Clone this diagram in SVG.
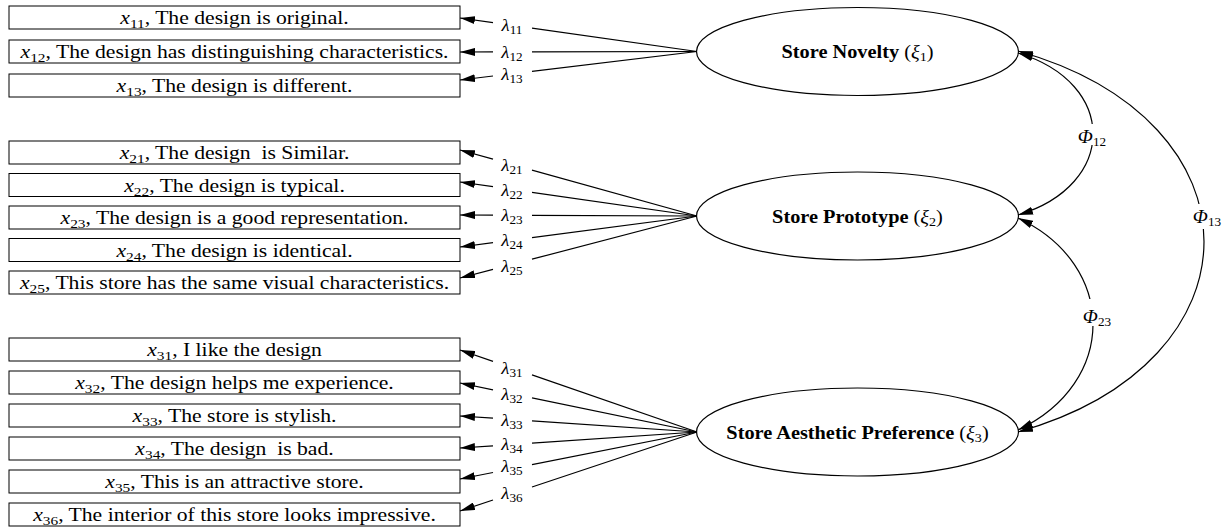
<svg xmlns="http://www.w3.org/2000/svg" width="1228" height="529" viewBox="0 0 1228 529">
<style>
.box{fill:#fff;stroke:#000;stroke-width:1}
.ell{fill:#fff;stroke:#000;stroke-width:1.2}
.edge{fill:none;stroke:#000;stroke-width:1.2}
.t{font-family:"Liberation Serif","Times New Roman",serif;font-size:19px;text-anchor:middle;white-space:pre;fill:#000}
.lt{font-family:"Liberation Serif","Times New Roman",serif;font-size:17px;text-anchor:middle;fill:#000}
.pt{font-family:"Liberation Serif","Times New Roman",serif;font-size:18px;text-anchor:middle;fill:#000}
.et{font-family:"Liberation Serif","Times New Roman",serif;font-size:18px;text-anchor:middle;fill:#000}
.i{font-style:italic}
.b{font-weight:bold}
.s{font-size:13.5px}
.ls{font-size:12px}
.es{font-size:12.5px}
.bg{fill:#fff}
</style>
<defs>
<marker id="ah" viewBox="0 0 15 8" refX="15" refY="4" markerWidth="15" markerHeight="8" markerUnits="userSpaceOnUse" orient="auto-start-reverse">
<path d="M0,0 L15,4 L0,8 z" fill="#000"/>
</marker>
</defs>

<g id="x11"><rect class="box" x="9" y="6" width="451" height="23"/><text class="t" transform="translate(234.5,24) scale(1.14,1)"><tspan class="i">x</tspan><tspan class="s" dy="4">11</tspan><tspan dy="-4">, The design is original.</tspan></text></g>
<g id="x12"><rect class="box" x="9" y="40" width="451" height="23"/><text class="t" transform="translate(234.5,58) scale(1.14,1)"><tspan class="i">x</tspan><tspan class="s" dy="4">12</tspan><tspan dy="-4">, The design has distinguishing characteristics.</tspan></text></g>
<g id="x13"><rect class="box" x="9" y="74" width="451" height="23"/><text class="t" transform="translate(234.5,92) scale(1.14,1)"><tspan class="i">x</tspan><tspan class="s" dy="4">13</tspan><tspan dy="-4">, The design is different.</tspan></text></g>

<g id="x21"><rect class="box" x="9" y="141" width="451" height="23"/><text class="t" transform="translate(234.5,159) scale(1.14,1)"><tspan class="i">x</tspan><tspan class="s" dy="4">21</tspan><tspan dy="-4">, The design  is Similar.</tspan></text></g>
<g id="x22"><rect class="box" x="9" y="173.5" width="451" height="23"/><text class="t" transform="translate(234.5,191.5) scale(1.14,1)"><tspan class="i">x</tspan><tspan class="s" dy="4">22</tspan><tspan dy="-4">, The design is typical.</tspan></text></g>
<g id="x23"><rect class="box" x="9" y="206" width="451" height="23"/><text class="t" transform="translate(234.5,224) scale(1.14,1)"><tspan class="i">x</tspan><tspan class="s" dy="4">23</tspan><tspan dy="-4">, The design is a good representation.</tspan></text></g>
<g id="x24"><rect class="box" x="9" y="238.5" width="451" height="23"/><text class="t" transform="translate(234.5,256.5) scale(1.14,1)"><tspan class="i">x</tspan><tspan class="s" dy="4">24</tspan><tspan dy="-4">, The design is identical.</tspan></text></g>
<g id="x25"><rect class="box" x="9" y="271" width="451" height="23"/><text class="t" transform="translate(234.5,289) scale(1.14,1)"><tspan class="i">x</tspan><tspan class="s" dy="4">25</tspan><tspan dy="-4">, This store has the same visual characteristics.</tspan></text></g>

<g id="x31"><rect class="box" x="9" y="338" width="451" height="23"/><text class="t" transform="translate(234.5,356) scale(1.14,1)"><tspan class="i">x</tspan><tspan class="s" dy="4">31</tspan><tspan dy="-4">, I like the design</tspan></text></g>
<g id="x32"><rect class="box" x="9" y="371" width="451" height="23"/><text class="t" transform="translate(234.5,389) scale(1.14,1)"><tspan class="i">x</tspan><tspan class="s" dy="4">32</tspan><tspan dy="-4">, The design helps me experience.</tspan></text></g>
<g id="x33"><rect class="box" x="9" y="404" width="451" height="23"/><text class="t" transform="translate(234.5,422) scale(1.14,1)"><tspan class="i">x</tspan><tspan class="s" dy="4">33</tspan><tspan dy="-4">, The store is stylish.</tspan></text></g>
<g id="x34"><rect class="box" x="9" y="437" width="451" height="23"/><text class="t" transform="translate(234.5,455) scale(1.14,1)"><tspan class="i">x</tspan><tspan class="s" dy="4">34</tspan><tspan dy="-4">, The design  is bad.</tspan></text></g>
<g id="x35"><rect class="box" x="9" y="470" width="451" height="23"/><text class="t" transform="translate(234.5,488) scale(1.14,1)"><tspan class="i">x</tspan><tspan class="s" dy="4">35</tspan><tspan dy="-4">, This is an attractive store.</tspan></text></g>
<g id="x36"><rect class="box" x="9" y="503" width="451" height="23"/><text class="t" transform="translate(234.5,521) scale(1.14,1)"><tspan class="i">x</tspan><tspan class="s" dy="4">36</tspan><tspan dy="-4">, The interior of this store looks impressive.</tspan></text></g>

<g id="xi1"><ellipse class="ell" cx="857.5" cy="51.5" rx="161" ry="44"/><text class="et" transform="translate(857.5,58) scale(1.13,1)"><tspan class="b">Store Novelty </tspan>(<tspan class="i">ξ</tspan><tspan class="es" dy="3">1</tspan><tspan dy="-3">)</tspan></text></g>
<g id="xi2"><ellipse class="ell" cx="857.5" cy="216" rx="161" ry="44"/><text class="et" transform="translate(857.5,222.5) scale(1.13,1)"><tspan class="b">Store Prototype </tspan>(<tspan class="i">ξ</tspan><tspan class="es" dy="3">2</tspan><tspan dy="-3">)</tspan></text></g>
<g id="xi3"><ellipse class="ell" cx="857.5" cy="432" rx="161" ry="44"/><text class="et" transform="translate(857.5,438.5) scale(1.13,1)"><tspan class="b">Store Aesthetic Preference </tspan>(<tspan class="i">ξ</tspan><tspan class="es" dy="3">3</tspan><tspan dy="-3">)</tspan></text></g>

<g id="connectors">
<path class="edge" d="M697,51.5 L532,28.2"/><path class="edge" marker-end="url(#ah)" d="M493,22.7 L460,18"/>
<path class="edge" d="M697,51.5 L532,51.9"/><path class="edge" marker-end="url(#ah)" d="M493,51.9 L460,52"/>
<path class="edge" d="M697,51.5 L532,71.3"/><path class="edge" marker-end="url(#ah)" d="M493,76 L460,80"/>

<path class="edge" d="M697,216 L532,170.1"/><path class="edge" marker-end="url(#ah)" d="M493,159.2 L460,150"/>
<path class="edge" d="M697,216 L532,192.3"/><path class="edge" marker-end="url(#ah)" d="M493,186.7 L460,182"/>
<path class="edge" d="M697,216 L532,215.3"/><path class="edge" marker-end="url(#ah)" d="M493,215.1 L460,215"/>
<path class="edge" d="M697,216 L532,237.6"/><path class="edge" marker-end="url(#ah)" d="M493,242.7 L460,247"/>
<path class="edge" d="M697,216 L532,259.2"/><path class="edge" marker-end="url(#ah)" d="M493,269.4 L460,278"/>

<path class="edge" d="M697,432 L532,374.9"/><path class="edge" marker-end="url(#ah)" d="M493,361.4 L460,350"/>
<path class="edge" d="M697,432 L532,397.9"/><path class="edge" marker-end="url(#ah)" d="M493,389.8 L460,383"/>
<path class="edge" d="M697,432 L532,420.9"/><path class="edge" marker-end="url(#ah)" d="M493,418.2 L460,416"/>
<path class="edge" d="M697,432 L532,443.1"/><path class="edge" marker-end="url(#ah)" d="M493,445.8 L460,448"/>
<path class="edge" d="M697,432 L532,464.7"/><path class="edge" marker-end="url(#ah)" d="M493,472.5 L460,479"/>
<path class="edge" d="M697,432 L532,487"/><path class="edge" marker-end="url(#ah)" d="M493,500 L460,511"/>

<path class="edge" marker-start="url(#ah)" marker-end="url(#ah)" d="M1018,53 C1118,83 1118,185 1018,215"/>
<path class="edge" marker-start="url(#ah)" marker-end="url(#ah)" d="M1018,218 C1118,265 1118,383 1018,430"/>
<path class="edge" marker-start="url(#ah)" marker-end="url(#ah)" d="M1018,51 C1266,121 1266,362 1018,432"/>
</g>

<g id="labels">
<text class="lt" transform="translate(512,31) scale(1.1,1)"><tspan class="i">λ</tspan><tspan class="ls" dy="3">11</tspan></text>
<text class="lt" transform="translate(512,58) scale(1.1,1)"><tspan class="i">λ</tspan><tspan class="ls" dy="3">12</tspan></text>
<text class="lt" transform="translate(512,80) scale(1.1,1)"><tspan class="i">λ</tspan><tspan class="ls" dy="3">13</tspan></text>
<text class="lt" transform="translate(512,170.5) scale(1.1,1)"><tspan class="i">λ</tspan><tspan class="ls" dy="3">21</tspan></text>
<text class="lt" transform="translate(512,195.5) scale(1.1,1)"><tspan class="i">λ</tspan><tspan class="ls" dy="3">22</tspan></text>
<text class="lt" transform="translate(512,221) scale(1.1,1)"><tspan class="i">λ</tspan><tspan class="ls" dy="3">23</tspan></text>
<text class="lt" transform="translate(512,246) scale(1.1,1)"><tspan class="i">λ</tspan><tspan class="ls" dy="3">24</tspan></text>
<text class="lt" transform="translate(512,272) scale(1.1,1)"><tspan class="i">λ</tspan><tspan class="ls" dy="3">25</tspan></text>
<text class="lt" transform="translate(512,374) scale(1.1,1)"><tspan class="i">λ</tspan><tspan class="ls" dy="3">31</tspan></text>
<text class="lt" transform="translate(512,400) scale(1.1,1)"><tspan class="i">λ</tspan><tspan class="ls" dy="3">32</tspan></text>
<text class="lt" transform="translate(512,425.5) scale(1.1,1)"><tspan class="i">λ</tspan><tspan class="ls" dy="3">33</tspan></text>
<text class="lt" transform="translate(512,450) scale(1.1,1)"><tspan class="i">λ</tspan><tspan class="ls" dy="3">34</tspan></text>
<text class="lt" transform="translate(512,472) scale(1.1,1)"><tspan class="i">λ</tspan><tspan class="ls" dy="3">35</tspan></text>
<text class="lt" transform="translate(512,499) scale(1.1,1)"><tspan class="i">λ</tspan><tspan class="ls" dy="3">36</tspan></text>

<rect class="bg" x="1083" y="124" width="20" height="21"/>
<text class="pt" transform="translate(1092,143) scale(1.1,1)"><tspan class="i">Φ</tspan><tspan class="ls" dy="3">12</tspan></text>
<rect class="bg" x="1085" y="299" width="20" height="27"/>
<text class="pt" transform="translate(1097,323) scale(1.1,1)"><tspan class="i">Φ</tspan><tspan class="ls" dy="3">23</tspan></text>
<rect class="bg" x="1194" y="204" width="20" height="25"/>
<text class="pt" transform="translate(1207,223) scale(1.1,1)"><tspan class="i">Φ</tspan><tspan class="ls" dy="3">13</tspan></text>
</g>
</svg>
